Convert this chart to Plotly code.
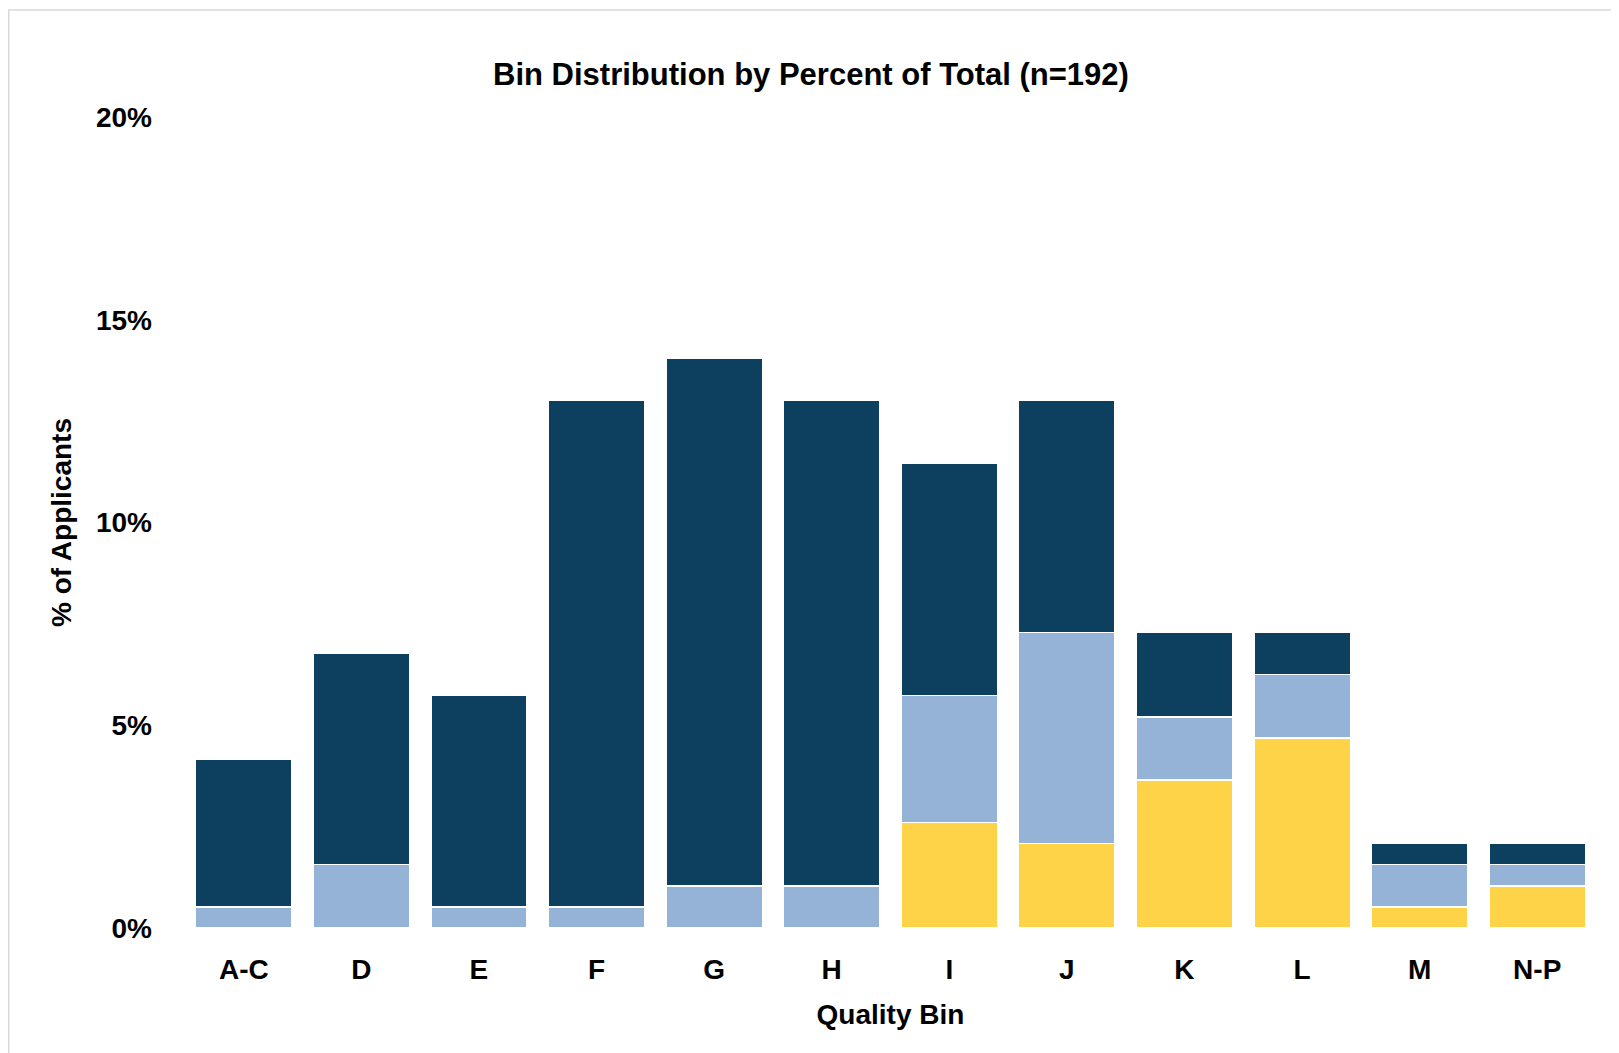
import plotly.graph_objects as go

# page body adds ~8px offset, so the figure is a bit smaller than the window
WIDTH = 1611
HEIGHT = 1045
MARGIN = dict(l=177, r=23, t=109, b=125)

N_TOTAL = 192
BINS = ['A-C', 'D', 'E', 'F', 'G', 'H', 'I', 'J', 'K', 'L', 'M', 'N-P']

# applicant counts per bin, stacked bottom -> top
YELLOW_COUNTS = [0, 0, 0, 0, 0, 0, 5, 4, 7, 9, 1, 2]
LIGHT_COUNTS = [1, 3, 1, 1, 2, 2, 6, 10, 3, 3, 2, 1]
DARK_COUNTS = [7, 10, 10, 24, 25, 23, 11, 11, 4, 2, 1, 1]

COLORS = ['#FFD347', '#95B3D7', '#0D3F5E']
FONT = 'Liberation Sans, Arial, sans-serif'


def pct(counts):
    return [c / N_TOTAL * 100 for c in counts]


fig = go.Figure()

for counts, color in zip([YELLOW_COUNTS, LIGHT_COUNTS, DARK_COUNTS], COLORS):
    fig.add_trace(go.Bar(
        x=BINS,
        y=pct(counts),
        marker=dict(color=color, line=dict(color='white', width=1.5)),
        hovertemplate='%{x}: %{y:.1f}%<extra></extra>',
        showlegend=False
    ))

# -------------------------
# chart border (light grey frame, runs off the right / bottom edge)
# -------------------------
plot_w = WIDTH - MARGIN['l'] - MARGIN['r']
plot_h = HEIGHT - MARGIN['t'] - MARGIN['b']


def px_x(px):
    return (px - MARGIN['l']) / plot_w


def px_y(py):
    return (HEIGHT - MARGIN['b'] - py) / plot_h


fig.add_shape(
    type='rect', xref='paper', yref='paper',
    x0=px_x(0.8), x1=px_x(WIDTH + 20), y0=px_y(HEIGHT + 20), y1=px_y(2),
    line=dict(color='#D9D9D9', width=1.5), layer='below'
)

fig.update_layout(
    barmode='stack',
    bargap=0.18,
    width=WIDTH,
    height=HEIGHT,
    margin=MARGIN,
    paper_bgcolor='white',
    plot_bgcolor='white',
    font=dict(family=FONT, color='black'),
    title=dict(
        text='<b>Bin Distribution by Percent of Total (n=192)</b>',
        font=dict(size=31, family=FONT, color='black'),
        x=803 / WIDTH, xanchor='center', xref='container',
        y=1 - 66 / HEIGHT, yanchor='middle'
    ),
    xaxis=dict(
        title=dict(text='<b>Quality Bin</b>', font=dict(size=28), standoff=20),
        tickfont=dict(size=28),
        tickprefix='<b>', ticksuffix='</b>',
        showgrid=False, showline=False, zeroline=False,
        ticks='', ticklabelstandoff=22
    ),
    yaxis=dict(
        title=dict(text='<b>% of Applicants</b>', font=dict(size=28), standoff=16),
        range=[0, 20],
        tickvals=[0, 5, 10, 15, 20],
        ticktext=['<b>0%</b>', '<b>5%</b>', '<b>10%</b>', '<b>15%</b>', '<b>20%</b>'],
        tickfont=dict(size=28),
        showgrid=False, showline=False, zeroline=False,
        ticks='', ticklabelstandoff=32
    )
)

fig.write_html("out.html")
